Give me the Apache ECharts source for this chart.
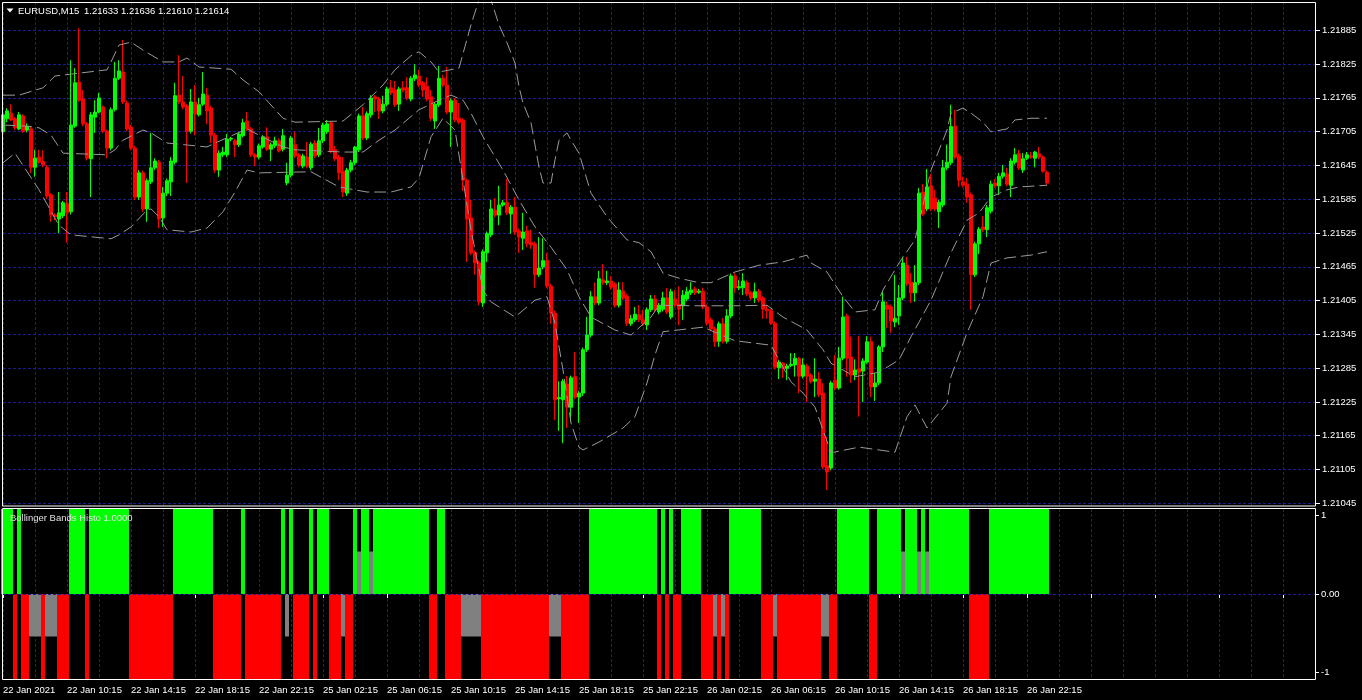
<!DOCTYPE html>
<html><head><meta charset="utf-8">
<script src="https://cdn.jsdelivr.net/npm/echarts@6/dist/echarts.min.js"></script>
<style>html,body{margin:0;padding:0;background:#000;}#c{width:1362px;height:700px;}</style>
</head><body><div id="c"></div>
<script>
// ---- data (prices in points, 1 point = 0.00001) ----
const symbolName = 'EURUSD,M15';
const indicatorName = 'Bollinger Bands Histo 1.0000';
const timeLabels = ['22 Jan 2021','22 Jan 10:15','22 Jan 14:15','22 Jan 18:15','22 Jan 22:15','25 Jan 02:15','25 Jan 06:15','25 Jan 10:15','25 Jan 14:15','25 Jan 18:15','25 Jan 22:15','26 Jan 02:15','26 Jan 06:15','26 Jan 10:15','26 Jan 14:15','26 Jan 18:15','26 Jan 22:15'];
const priceTickLabels = ['1.21045','1.21105','1.21165','1.21225','1.21285','1.21345','1.21405','1.21465','1.21525','1.21585','1.21645','1.21705','1.21765','1.21825','1.21885'];
const subTickLabels = ['-1','0.00','1'];
const currentPrice = 121614;

const openPts = [121705,121728,121738,121728,121710,121733,121708,121710,121642,121660,121652,121642,121593,121557,121550,121556,121577,121563,121715,121793,121763,121719,121657,121731,121740,121749,121706,121676,121744,121800,121811,121756,121713,121676,121589,121632,121568,121616,121641,121651,121552,121596,121616,121651,121770,121758,121751,121706,121758,121735,121754,121770,121747,121699,121637,121664,121664,121692,121689,121682,121698,121724,121710,121664,121660,121678,121696,121674,121680,121689,121674,121614,121628,121682,121664,121644,121660,121641,121685,121664,121689,121705,121721,121673,121660,121634,121596,121637,121650,121673,121733,121694,121735,121767,121763,121742,121754,121783,121779,121754,121783,121783,121763,121799,121804,121792,121786,121767,121724,121753,121800,121788,121740,121761,121729,121726,121619,121552,121490,121472,121401,121490,121522,121566,121557,121575,121579,121559,121571,121529,121516,121529,121508,121506,121451,121465,121476,121431,121383,121231,121229,121257,121216,121270,121234,121241,121318,121344,121412,121401,121442,121437,121440,121435,121397,121422,121413,121364,121371,121380,121371,121362,121389,121408,121385,121390,121410,121376,121408,121399,121396,121408,121419,121426,121420,121422,121394,121371,121355,121333,121364,121333,121378,121449,121428,121428,121437,121419,121410,121422,121410,121390,121387,121365,121286,121294,121285,121290,121291,121302,121271,121289,121273,121262,121266,121241,121112,121108,121264,121250,121303,121378,121305,121273,121284,121280,121296,121332,121252,121259,121323,121397,121394,121367,121378,121410,121468,121438,121419,121437,121598,121568,121609,121587,121563,121575,121641,121650,121715,121662,121616,121612,121593,121451,121506,121536,121531,121564,121614,121609,121626,121630,121610,121651,121666,121637,121658,121662,121658,121666,121660,121633];
const highPts = [121740,121747,121754,121731,121740,121736,121720,121714,121673,121673,121672,121646,121596,121560,121598,121582,121598,121832,121818,121889,121779,121722,121740,121761,121774,121752,121709,121748,121829,121832,121868,121760,121717,121680,121637,121636,121622,121703,121658,121655,121607,121622,121660,121792,121841,121804,121754,121781,121788,121765,121811,121783,121751,121703,121672,121678,121701,121696,121692,121705,121728,121740,121713,121667,121684,121699,121713,121686,121696,121693,121710,121650,121698,121705,121667,121666,121687,121687,121690,121712,121721,121726,121724,121680,121664,121660,121641,121655,121680,121737,121749,121741,121770,121770,121767,121769,121785,121797,121795,121785,121795,121802,121804,121825,121815,121795,121802,121779,121758,121822,121806,121820,121764,121765,121756,121729,121622,121584,121494,121476,121496,121528,121584,121587,121609,121584,121621,121575,121589,121533,121561,121538,121531,121510,121518,121516,121490,121435,121387,121262,121266,121271,121272,121314,121245,121322,121376,121422,121437,121458,121470,121458,121449,121438,121438,121438,121417,121380,121394,121397,121389,121393,121415,121415,121401,121421,121428,121426,121424,121431,121424,121429,121438,121430,121426,121428,121398,121375,121359,121368,121374,121390,121453,121454,121442,121454,121441,121422,121437,121426,121413,121397,121390,121368,121300,121296,121293,121312,121312,121305,121303,121293,121276,121303,121278,121259,121163,121263,121309,121323,121412,121382,121341,121301,121342,121303,121342,121341,121277,121326,121421,121403,121398,121451,121433,121483,121483,121454,121468,121605,121612,121639,121630,121602,121584,121655,121682,121753,121744,121666,121625,121623,121597,121510,121536,121555,121575,121618,121621,121632,121646,121641,121658,121676,121673,121667,121669,121669,121671,121678,121663,121636];
const lowPts = [121701,121722,121724,121708,121708,121703,121704,121632,121625,121648,121642,121586,121545,121548,121525,121552,121508,121558,121712,121758,121715,121654,121589,121703,121738,121703,121658,121672,121741,121797,121754,121706,121672,121584,121584,121563,121545,121612,121637,121534,121536,121591,121591,121647,121754,121745,121614,121702,121699,121732,121751,121719,121685,121632,121625,121660,121660,121688,121660,121678,121695,121706,121660,121644,121656,121675,121671,121653,121676,121668,121670,121610,121624,121658,121642,121640,121640,121637,121658,121660,121685,121701,121667,121653,121619,121589,121591,121633,121646,121669,121690,121690,121730,121740,121728,121738,121750,121770,121749,121742,121775,121761,121759,121795,121784,121767,121759,121724,121710,121749,121784,121736,121678,121722,121718,121600,121474,121486,121451,121397,121394,121474,121518,121553,121539,121572,121557,121524,121522,121490,121495,121500,121497,121428,121447,121461,121427,121364,121193,121174,121152,121179,121190,121230,121188,121236,121314,121340,121397,121397,121433,121433,121425,121393,121393,121406,121360,121360,121367,121367,121360,121353,121385,121385,121381,121386,121381,121372,121393,121362,121371,121404,121415,121415,121417,121390,121361,121351,121323,121323,121329,121329,121374,121419,121424,121415,121413,121406,121401,121402,121373,121373,121362,121283,121266,121268,121264,121287,121270,121241,121267,121225,121258,121234,121234,121106,121069,121104,121246,121247,121299,121270,121259,121264,121199,121225,121293,121234,121227,121255,121314,121357,121348,121358,121362,121406,121431,121401,121403,121433,121555,121564,121564,121564,121534,121571,121637,121646,121656,121607,121606,121579,121389,121447,121488,121527,121518,121560,121605,121593,121622,121608,121589,121647,121637,121632,121655,121657,121642,121656,121632,121610];
const closePts = [121735,121742,121726,121712,121735,121706,121715,121642,121658,121651,121646,121591,121557,121554,121561,121579,121561,121717,121792,121761,121719,121658,121735,121740,121765,121706,121676,121744,121800,121813,121758,121710,121676,121589,121632,121568,121618,121641,121653,121550,121596,121618,121653,121769,121758,121749,121706,121758,121737,121753,121772,121742,121699,121637,121667,121669,121692,121693,121682,121701,121721,121710,121664,121660,121680,121696,121674,121682,121689,121671,121698,121628,121694,121662,121646,121662,121644,121683,121662,121689,121717,121719,121671,121657,121632,121598,121637,121650,121678,121733,121694,121737,121765,121763,121742,121754,121781,121774,121753,121781,121779,121765,121800,121806,121788,121779,121763,121729,121754,121800,121788,121740,121760,121726,121722,121619,121550,121490,121472,121403,121492,121524,121568,121557,121575,121579,121561,121571,121527,121518,121527,121506,121504,121451,121463,121476,121431,121383,121229,121233,121262,121216,121268,121234,121241,121318,121344,121412,121401,121444,121437,121440,121429,121397,121424,121410,121365,121373,121381,121371,121364,121389,121408,121389,121397,121410,121385,121421,121397,121390,121415,121421,121424,121419,121422,121394,121365,121355,121332,121364,121333,121378,121449,121428,121430,121440,121417,121410,121421,121406,121390,121387,121365,121287,121296,121285,121289,121292,121303,121271,121291,121271,121262,121266,121238,121110,121101,121259,121250,121303,121376,121303,121273,121282,121278,121298,121332,121252,121259,121323,121403,121390,121369,121374,121410,121472,121435,121419,121437,121596,121559,121607,121568,121568,121580,121641,121651,121714,121660,121619,121610,121589,121451,121506,121532,121531,121570,121612,121609,121626,121632,121612,121653,121664,121641,121657,121664,121660,121669,121660,121635,121614];

// Bollinger Bands Histo: 1 = green, -1 = red, +/-0.5 = gray
const histo = [1,1,1,-1,1,-1,-1,-.5,-.5,-.5,
 -1,-.5,-.5,-.5,-1,-1,-1,1,1,1,
 1,-1,1,1,1,1,1,1,1,1,
 1,1,-1,-1,-1,-1,-1,-1,-1,-1,
 -1,-1,-1,1,1,1,1,1,1,1,
 1,1,1,-1,-1,-1,-1,-1,-1,-1,
 1,-1,-1,-1,-1,-1,-1,-1,-1,-1,
 1,-.5,1,-1,-1,-1,-1,1,-1,1,
 1,1,-1,-1,-1,-.5,-1,-1,1,.5,
 1,1,.5,1,1,1,1,1,1,1,
 1,1,1,1,1,1,1,-1,-1,1,
 1,-1,-1,-1,-1,-.5,-.5,-.5,-.5,-.5,
 -1,-1,-1,-1,-1,-1,-1,-1,-1,-1,
 -1,-1,-1,-1,-1,-1,-1,-.5,-.5,-.5,
 -1,-1,-1,-1,-1,-1,-1,1,1,1,
 1,1,1,1,1,1,1,1,1,1,
 1,1,1,1,-1,1,-1,1,-1,-1,
 1,1,1,1,1,-1,-1,-1,-.5,-1,
 -.5,-1,1,1,1,1,1,1,1,1,
 -1,-1,-1,-.5,-1,-1,-1,-1,-1,-1,
 -1,-1,-1,-1,-1,-.5,-.5,-1,-1,1,
 1,1,1,1,1,1,1,-1,-1,1,
 1,1,1,1,1,.5,1,1,1,.5,
 1,.5,1,1,1,1,1,1,1,1,
 1,1,-1,-1,-1,-1,-1,1,1,1,
 1,1,1,1,1,1,1,1,1,1,
 1,1];

// Bollinger bands read at bar index: [bar, points]
const bandUpperPts = [[0,121770],[4,121770],[10,121783],[13,121804],[19,121809],[26,121815],[27,121829],[29,121859],[32,121864],[35,121850],[40,121829],[44,121829],[46,121836],[49,121820],[57,121816],[60,121797],[64,121776],[70,121729],[73,121722],[85,121724],[90,121753],[95,121788],[98,121815],[102,121840],[104,121847],[107,121829],[109,121811],[114,121818],[117,121895],[119,121939],[120,121953],[122,121939],[124,121895],[126,121863],[128,121827],[129,121785],[130,121756],[132,121721],[134,121642],[135,121614],[137,121614],[138,121655],[139,121690],[141,121703],[142,121690],[144,121667],[147,121596],[151,121554],[156,121513],[159,121508],[162,121492],[165,121454],[169,121445],[174,121437],[177,121437],[183,121456],[189,121468],[195,121474],[201,121486],[202,121472],[206,121456],[210,121412],[213,121385],[218,121389],[220,121424],[224,121472],[228,121513],[232,121637],[236,121708],[237,121738],[240,121747],[242,121738],[245,121722],[247,121705],[251,121710],[253,121726],[257,121729],[261,121729]];
const bandMiddlePts = [[0,121717],[6,121715],[9,121712],[12,121699],[15,121667],[26,121664],[28,121673],[30,121690],[35,121708],[37,121703],[41,121685],[51,121678],[53,121685],[61,121710],[64,121699],[70,121678],[73,121673],[85,121669],[90,121669],[94,121690],[98,121708],[104,121744],[109,121761],[112,121770],[115,121761],[117,121738],[120,121696],[125,121637],[129,121584],[133,121536],[137,121500],[141,121460],[144,121412],[147,121376],[153,121353],[157,121344],[162,121376],[164,121397],[173,121396],[183,121396],[191,121397],[195,121376],[201,121353],[205,121318],[207,121294],[213,121270],[219,121278],[224,121300],[227,121341],[232,121406],[237,121490],[241,121548],[244,121561],[247,121589],[251,121602],[254,121607],[261,121610]];
const bandLowerPts = [[0,121650],[3,121667],[9,121602],[14,121539],[17,121522],[27,121515],[29,121522],[32,121536],[36,121566],[37,121568],[39,121554],[41,121531],[47,121527],[51,121534],[55,121563],[58,121598],[61,121637],[64,121632],[77,121634],[84,121607],[91,121598],[97,121598],[102,121607],[104,121623],[107,121696],[110,121729],[113,121708],[117,121531],[120,121424],[122,121403],[128,121376],[133,121406],[136,121412],[138,121365],[140,121282],[142,121188],[144,121145],[145,121140],[149,121154],[155,121179],[158,121199],[161,121259],[163,121309],[165,121350],[175,121358],[183,121334],[192,121326],[197,121261],[200,121241],[203,121216],[207,121135],[214,121145],[223,121136],[226,121199],[228,121220],[231,121179],[236,121223],[237,121270],[241,121348],[245,121412],[247,121472],[251,121481],[257,121486],[261,121492]];

// ---- chart ----
const PT = 1e-5;
const N_SLOTS = 329;
const FONT = '"Liberation Sans", Arial, sans-serif';
const FS = 9.5;
const GRID_C = '#1c1c8e';
const BAND_C = '#9a9a9a';
const slots = Array.from({length: N_SLOTS}, (_, i) => String(i));
const candles = openPts.map((o, i) => [o * PT, closePts[i] * PT, lowPts[i] * PT, highPts[i] * PT]);
const toPairs = arr => arr.map(([i, v]) => [i, v * PT]);
const upBars = histo.map(v => v === 1 ? 1 : '-');
const dnBars = histo.map(v => v === -1 ? -1 : '-');
const grayBars = histo.map(v => Math.abs(v) === 0.5 ? v : '-');
const last = openPts.length - 1;
const fmt = v => (v * PT).toFixed(5);
const titleValues = [openPts[last], highPts[last], lowPts[last], closePts[last]].map(fmt).join(' ');

const vGrid = {show: true, interval: (i) => i % 8 === 0, lineStyle: {color: GRID_C, type: [3, 2], width: 1}};
const hidden = {show: false};

const option = {
  backgroundColor: '#000',
  animation: false,
  grid: [
    {left: 3, top: 2, width: 1312, height: 504},
    {left: 3, top: 30.3, width: 1312, height: 473},
    {left: 3, top: 509, width: 1312, height: 170},
    {left: 3, top: 515.7, width: 1312, height: 157}
  ],
  xAxis: [
    {type: 'category', gridIndex: 0, data: slots, boundaryGap: false, axisLine: hidden, axisTick: hidden, axisLabel: hidden, splitLine: vGrid},
    {type: 'value', gridIndex: 0, min: 0, max: N_SLOTS - 1, show: false},
    {type: 'category', gridIndex: 1, data: slots, boundaryGap: false, show: false},
    {type: 'category', gridIndex: 2, data: slots, boundaryGap: false, axisLine: hidden,
      axisTick: {show: true, interval: (i) => i % 16 === 0, length: 4, lineStyle: {color: '#fff'}},
      axisLabel: {show: true, interval: (i) => i % 16 === 0, color: '#fff', fontSize: FS, fontFamily: FONT, align: 'left', margin: 6,
        formatter: (v, i) => (i % 16 === 0 && timeLabels[i / 16]) ? timeLabels[i / 16] : ''},
      splitLine: vGrid},
    {type: 'category', gridIndex: 3, data: slots, boundaryGap: false, show: false}
  ],
  yAxis: [
    {type: 'value', gridIndex: 0, min: 1.210405, max: 1.219354, show: false},
    {type: 'value', gridIndex: 1, min: 0, max: priceTickLabels.length - 1, interval: 1, position: 'right', offset: 1,
      axisLine: hidden, axisTick: {show: true, length: 4, lineStyle: {color: '#fff'}},
      axisLabel: {color: '#fff', fontSize: FS, fontFamily: FONT, margin: 6, formatter: v => priceTickLabels[v]},
      splitLine: {show: true, lineStyle: {color: GRID_C, type: [3, 2], width: 1}}},
    {type: 'value', gridIndex: 2, min: -1, max: 1, show: false},
    {type: 'value', gridIndex: 3, min: -1, max: 1, interval: 1, position: 'right', offset: 1,
      axisLine: hidden, axisTick: {show: true, length: 3, lineStyle: {color: '#fff'}},
      axisLabel: {color: '#fff', fontSize: FS, fontFamily: FONT, margin: 5, formatter: v => subTickLabels[v + 1]},
      splitLine: hidden}
  ],
  series: [
    {type: 'candlestick', name: symbolName, xAxisIndex: 0, yAxisIndex: 0, data: candles, barWidth: 3, z: 3,
      itemStyle: {color: '#00ff00', color0: '#ff0000', borderColor: '#00ff00', borderColor0: '#ff0000', borderWidth: 1},
      markLine: {silent: true, symbol: ['none', 'none'], animation: false,
        data: [{yAxis: currentPrice * PT}],
        lineStyle: {color: '#2626b0', type: 'solid', width: 1},
        label: {show: true, position: 'end', distance: 4, formatter: fmt(currentPrice), backgroundColor: '#fff', color: '#000',
          padding: [2, 3, 1, 3], fontSize: FS, fontFamily: FONT}}},
    {type: 'line', name: 'upper', xAxisIndex: 1, yAxisIndex: 0, data: toPairs(bandUpperPts), symbol: 'none', silent: true, z: 4,
      lineStyle: {color: BAND_C, width: 1, type: [12, 5]}},
    {type: 'line', name: 'middle', xAxisIndex: 1, yAxisIndex: 0, data: toPairs(bandMiddlePts), symbol: 'none', silent: true, z: 4,
      lineStyle: {color: BAND_C, width: 1, type: [12, 5]}},
    {type: 'line', name: 'lower', xAxisIndex: 1, yAxisIndex: 0, data: toPairs(bandLowerPts), symbol: 'none', silent: true, z: 4,
      lineStyle: {color: BAND_C, width: 1, type: [12, 5]}},
    {type: 'line', xAxisIndex: 3, yAxisIndex: 2, data: [], z: 1, silent: true,
      markLine: {silent: true, symbol: ['none', 'none'], data: [{yAxis: 0}], label: {show: false},
        lineStyle: {color: GRID_C, type: [3, 2], width: 1}}},
    {type: 'bar', xAxisIndex: 3, yAxisIndex: 2, data: upBars, barWidth: 4, barGap: '-100%', silent: true, itemStyle: {color: '#00ff00'}},
    {type: 'bar', xAxisIndex: 3, yAxisIndex: 2, data: dnBars, barWidth: 4, barGap: '-100%', silent: true, itemStyle: {color: '#ff0000'}},
    {type: 'bar', xAxisIndex: 3, yAxisIndex: 2, data: grayBars, barWidth: 4, barGap: '-100%', silent: true, itemStyle: {color: '#808080'}}
  ],
  graphic: [
    {type: 'rect', silent: true, z: 100, shape: {x: 2.5, y: 2.5, width: 1313, height: 503.5}, style: {fill: 'none', stroke: '#fff', lineWidth: 1}},
    {type: 'rect', silent: true, z: 100, shape: {x: 2.5, y: 508.5, width: 1313, height: 171}, style: {fill: 'none', stroke: '#fff', lineWidth: 1}},
    {type: 'polygon', silent: true, z: 100, shape: {points: [[6.5, 8.5], [13.5, 8.5], [10, 12.5]]}, style: {fill: '#fff'}},
    {type: 'text', silent: true, z: 100, x: 18, y: 11, style: {text: symbolName, fill: '#fff', fontSize: FS, fontFamily: FONT, verticalAlign: 'middle'}},
    {type: 'text', silent: true, z: 100, x: 84, y: 11, style: {text: titleValues, fill: '#fff', fontSize: FS, fontFamily: FONT, verticalAlign: 'middle'}},
    {type: 'text', silent: true, z: 100, x: 10, y: 518, style: {text: indicatorName, fill: '#e0e0e0', fontSize: FS, fontFamily: FONT, verticalAlign: 'middle'}}
  ]
};
const chart = echarts.init(document.getElementById('c'), null, {renderer: 'canvas'});
chart.setOption(option);
</script>
</body></html>
